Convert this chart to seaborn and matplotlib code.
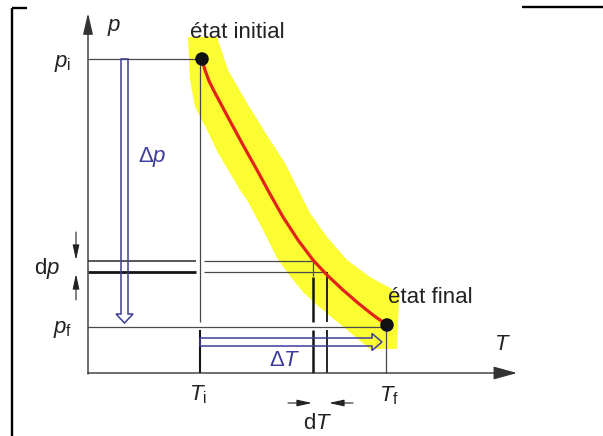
import matplotlib
matplotlib.use("Agg")
import matplotlib.pyplot as plt
from matplotlib.patches import FancyArrow, Polygon
import seaborn as sns

# ---- diagram geometry (drawing units, y grows downward) ----
# pressure / temperature levels
p_i, p_f = 59, 327
T_i, T_f = 200, 386
p_lo, p_hi = 261, 272          # the two lines bounding dp
T_lo, T_hi = 313, 327          # the two lines bounding dT
T0, p0 = 88, 373               # origin of the T-p axes

# expansion curve from the initial to the final state
T_curve = [202, 205, 209, 214, 222, 230, 243, 257, 270, 283, 298, 313, 327, 343, 358, 373, 387]
p_curve = [59, 70, 81, 91, 106, 121, 145, 170, 194, 217, 240, 260, 275, 290, 303, 315, 325]

# highlighted band around the curve (left/lower edge, then right/upper edge)
band_left_T = [188, 190, 195, 207, 218, 230, 240, 247, 262, 277, 290, 303, 318, 335, 352, 370]
band_left_p = [37, 80, 107, 130, 153, 173, 190, 200, 228, 258, 276, 292, 306, 320, 334, 349]
band_right_T = [217, 228, 247, 268, 285, 297, 310, 327, 347, 370, 390, 399, 397]
band_right_p = [37, 70, 103, 137, 163, 187, 213, 237, 260, 277, 288, 297, 349]

# state points
state_T = [202, 387]
state_p = [59, 325]

sns.set_theme(style="white")
plt.rcParams["font.family"] = ["Liberation Sans", "DejaVu Sans"]
plt.rcParams["mathtext.fontset"] = "custom"
plt.rcParams["mathtext.rm"] = "Liberation Sans"
plt.rcParams["mathtext.it"] = "Liberation Sans:italic"
plt.rcParams["mathtext.bf"] = "Liberation Sans:bold"

fig = plt.figure(figsize=(6.03, 4.36), dpi=100)
ax = fig.add_axes([0, 0, 1, 1])
ax.set_xlim(0, 603)
ax.set_ylim(436, 0)
ax.axis("off")

GRAY = "#4a4a4a"
BLACK = "#151515"
NAVY = "#3d3d9c"
RED = "#e2231a"
YELLOW = "#fcfc33"
FS = 16

# page frame fragments
ax.plot([12, 12], [8, 436], color="black", lw=1.7, solid_capstyle="butt")
ax.plot([12, 27], [8, 8], color="black", lw=1.7, solid_capstyle="butt")
ax.plot([522, 603], [7, 7], color="black", lw=1.7, solid_capstyle="butt")

# yellow highlight band
band = list(zip(band_left_T, band_left_p)) + list(zip(band_right_T, band_right_p))[::-1]
ax.add_patch(Polygon(band, closed=True, facecolor=YELLOW, edgecolor="none", zorder=1))

# axes with arrow heads
ax.annotate("", xy=(T0, 13), xytext=(T0, p0 + 1),
            arrowprops=dict(arrowstyle="-|>,head_length=1.3,head_width=0.3",
                            color="#333333", lw=1.0, shrinkA=0, shrinkB=0,
                            mutation_scale=10), zorder=3)
ax.annotate("", xy=(517, p0), xytext=(T0, p0),
            arrowprops=dict(arrowstyle="-|>,head_length=1.45,head_width=0.4",
                            color="#333333", lw=1.0, shrinkA=0, shrinkB=0,
                            mutation_scale=10), zorder=3)

def seg(x, y, color=GRAY, lw=0.9):
    ax.plot(x, y, color=color, lw=lw, solid_capstyle="butt", zorder=2)

# guide lines for the initial and final states
seg([T0, state_T[0]], [p_i, p_i])
seg([T0, state_T[1]], [p_f, p_f])
seg([T_i, T_i], [p_i, p_f - 5])
seg([T_i, T_i], [p_f + 3, p0], color=BLACK, lw=1.5)
seg([T_f, T_f], [state_p[1], p0])

# dp lines (broken around the T_i line)
seg([T0, T_i - 4], [p_lo, p_lo], color="#2a2a2a", lw=1.1)
seg([T_i + 4, T_lo], [p_lo, p_lo])
seg([T0, T_i - 4], [p_hi, p_hi], color=BLACK, lw=2.0)
seg([T_i + 4, T_hi], [p_hi, p_hi])

# dT lines (broken around the p_f line)
seg([T_lo, T_lo], [p_lo, p_hi + 4])
seg([T_lo, T_lo], [p_hi + 5, p_f - 5], color=BLACK, lw=1.8)
seg([T_lo, T_lo], [p_f + 3, p0], color=BLACK, lw=1.8)
seg([T_hi, T_hi], [p_hi, p_f - 5], color=BLACK, lw=1.3)
seg([T_hi, T_hi], [p_f + 3, p0], color=BLACK, lw=1.3)

# hollow arrows for the finite changes
ax.add_patch(FancyArrow(124.5, p_i, 0, p_f - 4 - p_i, width=7, head_width=17,
                        head_length=9, length_includes_head=True,
                        facecolor="none", edgecolor=NAVY, lw=1.1, zorder=4))
ax.add_patch(FancyArrow(T_i, 342, 382 - T_i, 0, width=8, head_width=17,
                        head_length=10, length_includes_head=True,
                        facecolor="none", edgecolor=NAVY, lw=1.1, zorder=4))

# small arrows marking dp and dT
small = dict(arrowstyle="-|>,head_length=0.9,head_width=0.2", color="#222222",
             lw=0.8, shrinkA=0, shrinkB=0, mutation_scale=10)
ax.annotate("", xy=(76, p_lo - 1), xytext=(76, 232), arrowprops=small)
ax.annotate("", xy=(76, p_hi + 2), xytext=(76, 300), arrowprops=small)
ax.annotate("", xy=(T_lo - 1, 403), xytext=(288, 403), arrowprops=small)
ax.annotate("", xy=(T_hi + 2, 403), xytext=(353, 403), arrowprops=small)

# the transformation curve and its end states
sns.lineplot(x=T_curve, y=p_curve, sort=False, estimator=None, color=RED,
             lw=2.3, ax=ax, zorder=5)
sns.scatterplot(x=state_T, y=state_p, s=95, color="#111111", edgecolor="none",
                ax=ax, zorder=6)

# labels
ax.text(237, 33, "état initial", ha="center", va="center", fontsize=FS, color="#222222")
ax.text(430, 297, "état final", ha="center", va="center", fontsize=FS, color="#222222")
ax.text(107, 28, r"$p$", ha="left", va="center", fontsize=FS, color="#222222")
ax.text(502, 344, r"$T$", ha="center", va="center", fontsize=FS, color="#222222")
ax.text(63, 63, r"$p_{\mathrm{i}}$", ha="center", va="center", fontsize=FS, color="#222222")
ax.text(63, 329, r"$p_{\mathrm{f}}$", ha="center", va="center", fontsize=FS, color="#222222")
ax.text(47, 268, r"$\mathrm{d}p$", ha="center", va="center", fontsize=FS, color="#222222")
ax.text(198, 395, r"$T_{\mathrm{i}}$", ha="center", va="center", fontsize=FS, color="#222222")
ax.text(389, 396, r"$T_{\mathrm{f}}$", ha="center", va="center", fontsize=FS, color="#222222")
ax.text(318, 423, r"$\mathrm{d}T$", ha="center", va="center", fontsize=FS, color="#222222")
ax.text(152, 157, r"$\Delta p$", ha="center", va="center", fontsize=FS, color=NAVY)
ax.text(285, 360, r"$\Delta T$", ha="center", va="center", fontsize=FS, color=NAVY)

fig.savefig("out.png", dpi=100)
